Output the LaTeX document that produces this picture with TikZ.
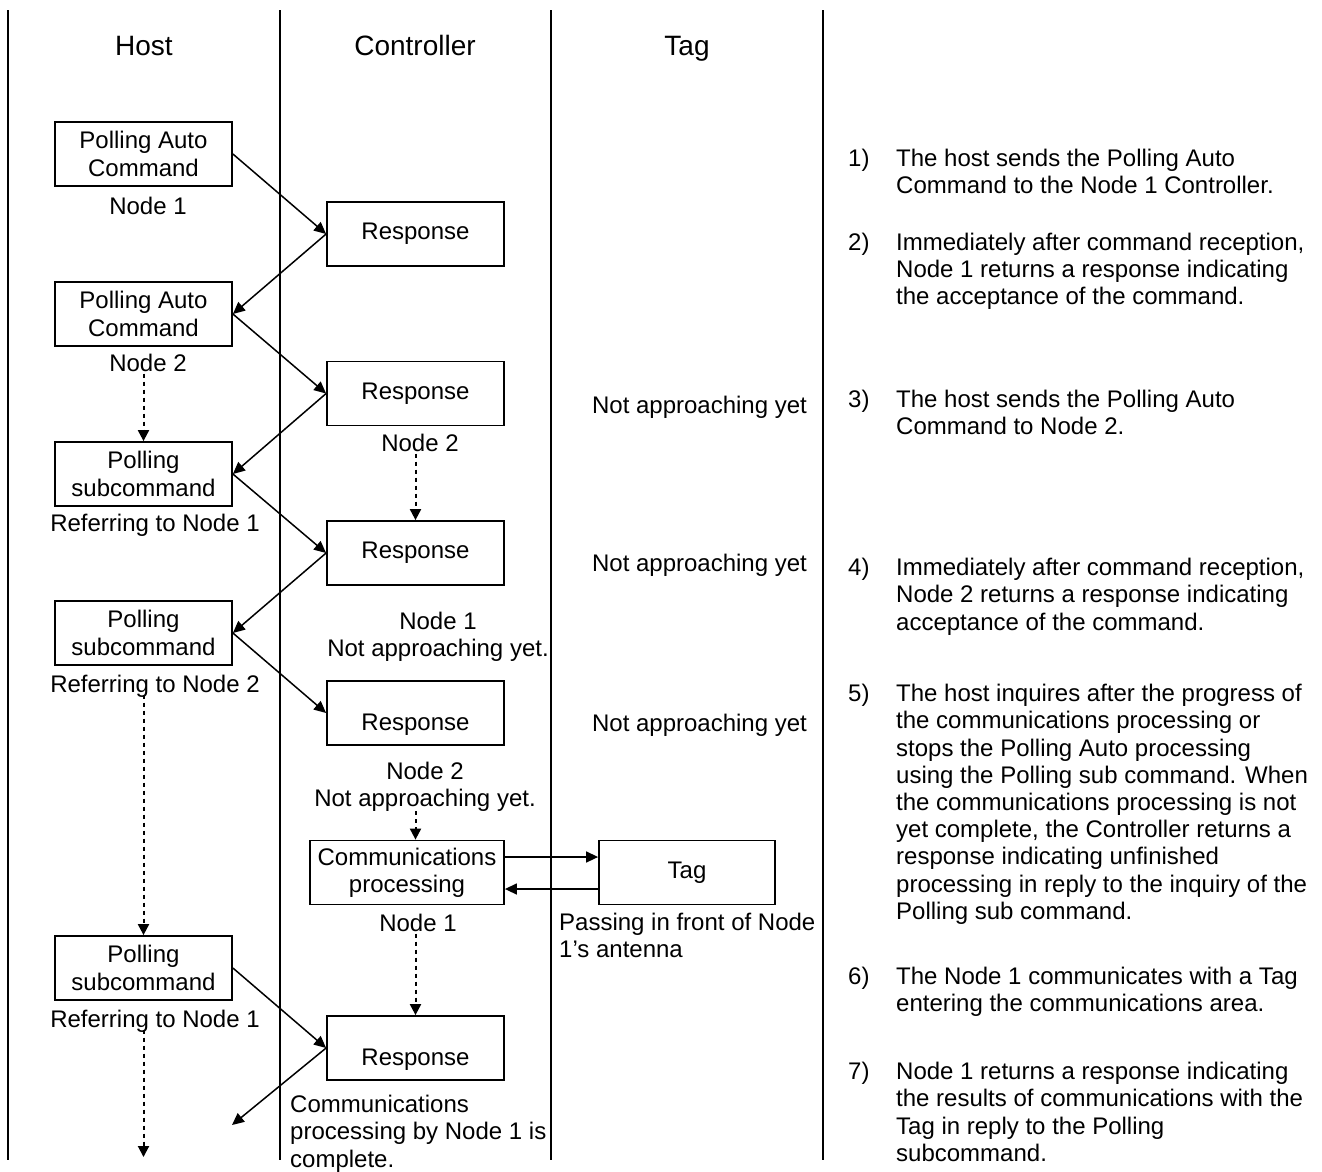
\documentclass[tikz,border=0pt]{standalone}
\usepackage{fontspec}
\setmainfont{Liberation Sans}
\usetikzlibrary{arrows.meta}

\begin{document}
\begin{tikzpicture}[
    x=1pt, y=-1pt,
    every node/.style={font=\fontsize{24}{27.2}\selectfont},
    lane/.style={line width=1.8pt},
    head/.style={font=\fontsize{28}{32}\selectfont, text height=20pt, text depth=0pt},
    msgbox/.style={rectangle, draw, line width=1.8pt, minimum width=177pt, minimum height=64pt, inner sep=0pt, align=center},
    lbl/.style={inner sep=2pt, text height=17pt, text depth=0pt},
    stack/.style={anchor=north, inner sep=0pt, align=center},
    note/.style={anchor=north west, inner sep=0pt, align=left},
    arr/.style={-{Triangle[length=12pt, width=11pt]}, line width=1.5pt},
    dotarr/.style={-{Triangle[length=11pt, width=11pt]}, line width=2pt, dash pattern=on 4pt off 4pt},
]
\useasboundingbox (0,0) rectangle (1322,1171);

\draw[lane] (8,10) -- (8,1160);
\draw[lane] (280,10) -- (280,1160);
\draw[lane] (551,10) -- (551,1160);
\draw[lane] (823,10) -- (823,1160);

\node[head] (hhost) at (144,45) {Host};
\node[head] (hctrl) at (415,45) {Controller};
\node[head] (htag) at (687,45) {Tag};

\node[msgbox] (pac1) at (143.5,154) {Polling Auto\\Command};
\node[lbl] (pac1lbl) at (148,206) {Node 1};
\node[msgbox] (pac2) at (143.5,314) {Polling Auto\\Command};
\node[lbl] (pac2lbl) at (148,363) {Node 2};
\node[msgbox] (psc1) at (143.5,474) {Polling\\subcommand};
\node[lbl] (psc1lbl) at (155,523) {Referring to Node 1};
\node[msgbox] (psc2) at (143.5,633) {Polling\\subcommand};
\node[lbl] (psc2lbl) at (155,684) {Referring to Node 2};
\node[msgbox] (psc3) at (143.5,968) {Polling\\subcommand};
\node[lbl] (psc3lbl) at (155,1019) {Referring to Node 1};
\coordinate (hostdown) at (143.5,1157);
\coordinate (hostback) at (232,1125);

\node[msgbox] (resp1) at (415.5,234) {Response};
\node[msgbox] (resp2) at (415.5,393.5) {Response};
\node[lbl] (resp2lbl) at (420,443) {Node 2};
\node[msgbox] (resp3) at (415.5,553) {Response};
\node[stack] (resp3lbl) at (438,611.5) {Node 1\\Not approaching yet.};
\node[msgbox, text height=35pt, text depth=0pt] (resp4) at (415.5,713) {Response};
\node[stack] (resp4lbl) at (425,761.5) {Node 2\\Not approaching yet.};
\node[msgbox, minimum width=194pt] (comm) at (407,872.5) {Communications\\processing};
\node[lbl] (commlbl) at (418,923) {Node 1};
\node[msgbox, text height=35pt, text depth=0pt] (resp5) at (415.5,1048) {Response};
\node[note] (resp5lbl) at (290,1095) {Communications\\processing by Node 1 is\\complete.};

\node[lbl] (wait1) at (699.5,405) {Not approaching yet};
\node[lbl] (wait2) at (699.5,563) {Not approaching yet};
\node[lbl] (wait3) at (699.5,723) {Not approaching yet};
\node[msgbox, minimum width=176pt] (tag) at (687,872.5) {Tag};
\node[note] (taglbl) at (559,913) {Passing in front of Node\\1’s antenna};

\node[note] (num1) at (848,149) {1)};
\node[note] (txt1) at (896,149) {The host sends the Polling Auto\\Command to the Node 1 Controller.};
\node[note] (num2) at (848,233) {2)};
\node[note] (txt2) at (896,233) {Immediately after command reception,\\Node 1 returns a response indicating\\the acceptance of the command.};
\node[note] (num3) at (848,390) {3)};
\node[note] (txt3) at (896,390) {The host sends the Polling Auto\\Command to Node 2.};
\node[note] (num4) at (848,558) {4)};
\node[note] (txt4) at (896,558) {Immediately after command reception,\\Node 2 returns a response indicating\\acceptance of the command.};
\node[note] (num5) at (848,684) {5)};
\node[note] (txt5) at (896,684) {The host inquires after the progress of\\the communications processing or\\stops the Polling Auto processing\\using the Polling sub command. When\\the communications processing is not\\yet complete, the Controller returns a\\response indicating unfinished\\processing in reply to the inquiry of the\\Polling sub command.};
\node[note] (num6) at (848,967) {6)};
\node[note] (txt6) at (896,967) {The Node 1 communicates with a Tag\\entering the communications area.};
\node[note] (num7) at (848,1062) {7)};
\node[note] (txt7) at (896,1062) {Node 1 returns a response indicating\\the results of communications with the\\Tag in reply to the Polling\\subcommand.};

\draw[arr] (pac1.east) -- (resp1.west);
\draw[arr] (resp1.west) -- (pac2.east);
\draw[arr] (pac2.east) -- (resp2.west);
\draw[arr] (resp2.west) -- (psc1.east);
\draw[arr] (psc1.east) -- (resp3.west);
\draw[arr] (resp3.west) -- (psc2.east);
\draw[arr] (psc2.east) -- (resp4.west);
\draw[arr] (psc3.east) -- (resp5.west);
\draw[arr] (resp5.west) -- (hostback);
\draw[arr] ([yshift=15.5pt]comm.east) -- ([yshift=15.5pt]comm.east -| tag.west);
\draw[arr] ([yshift=-16.5pt]tag.west) -- ([yshift=-16.5pt]tag.west -| comm.east);

\draw[dotarr] (pac2lbl.south -| pac2.south) -- (psc1.north);
\draw[dotarr] (psc2lbl.south -| psc2.south) -- (psc3.north);
\draw[dotarr] (psc3lbl.south -| psc3.south) -- (hostdown);
\draw[dotarr] (resp2lbl.south -| resp2.south) -- (resp3.north);
\draw[dotarr] (resp4lbl.south -| resp4.south) -- (resp4.south |- comm.north);
\draw[dotarr] (commlbl.south -| resp5.north) -- (resp5.north);

\end{tikzpicture}
\end{document}
